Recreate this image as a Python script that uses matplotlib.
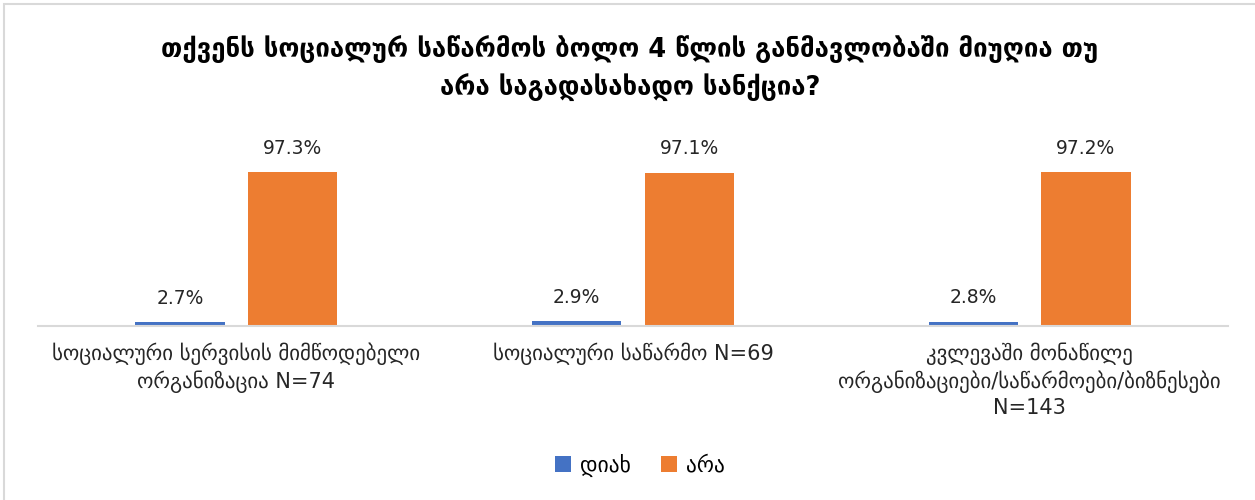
import matplotlib

matplotlib.use("Agg")
import matplotlib.pyplot as plt
import numpy as np
from matplotlib.patches import Rectangle

plt.rcParams["font.family"] = ["DejaVu Sans"]

title = "თქვენს სოციალურ საწარმოს ბოლო 4 წლის განმავლობაში მიუღია თუ\nარა საგადასახადო სანქცია?"
categories = [
    "სოციალური სერვისის მიმწოდებელი\nორგანიზაცია N=74",
    "სოციალური საწარმო N=69",
    "კვლევაში მონაწილე\nორგანიზაციები/საწარმოები/ბიზნესები\nN=143",
]
series_names = ["დიახ", "არა"]
yes_vals = [2.7, 2.9, 2.8]
no_vals = [97.3, 97.1, 97.2]
colors = ["#4472C4", "#ED7D31"]

fig = plt.figure(figsize=(12.55, 5.0), dpi=100)
ax = fig.add_axes([38 / 1255, 0.348, 1190 / 1255, 0.392])

x = np.arange(len(categories))
w = 0.225
off = 0.142
for vals, c, dx, name in zip([yes_vals, no_vals], colors, [-off, off], series_names):
    bars = ax.bar(x + dx, vals, width=w, color=c, label=name)
    for b, v in zip(bars, vals):
        ax.text(b.get_x() + b.get_width() / 2, v + 9, f"{v:.1f}%",
                ha="center", va="bottom", fontsize=13.5, color="#262626")

ax.set_xlim(-0.5, 2.5)
ax.set_ylim(0, 124)
ax.set_yticks([])
ax.set_xticks(x)
ax.set_xticklabels(categories, fontsize=15, color="#262626", linespacing=1.3)
ax.tick_params(axis="x", length=0, pad=12)
for s in ["top", "right", "left"]:
    ax.spines[s].set_visible(False)
ax.spines["bottom"].set_color("#d9d9d9")
ax.spines["bottom"].set_linewidth(1.5)

fig.text(0.502, 0.862, title, ha="center", va="center", fontsize=18.5,
         fontweight="bold", color="#000000", linespacing=1.5)

fig.legend(loc="center", bbox_to_anchor=(0.51, 0.07), ncol=2, frameon=False,
           fontsize=15.5, handlelength=0.75, handleheight=0.75, handletextpad=0.4,
           columnspacing=1.4)

fig.patches.append(Rectangle((4 / 1255, -0.01), 1.05, 1.0 - 4 / 500 + 0.01,
                             transform=fig.transFigure, fill=False,
                             edgecolor="#d9d9d9", linewidth=1.5))

fig.savefig("out.png", dpi=100)
